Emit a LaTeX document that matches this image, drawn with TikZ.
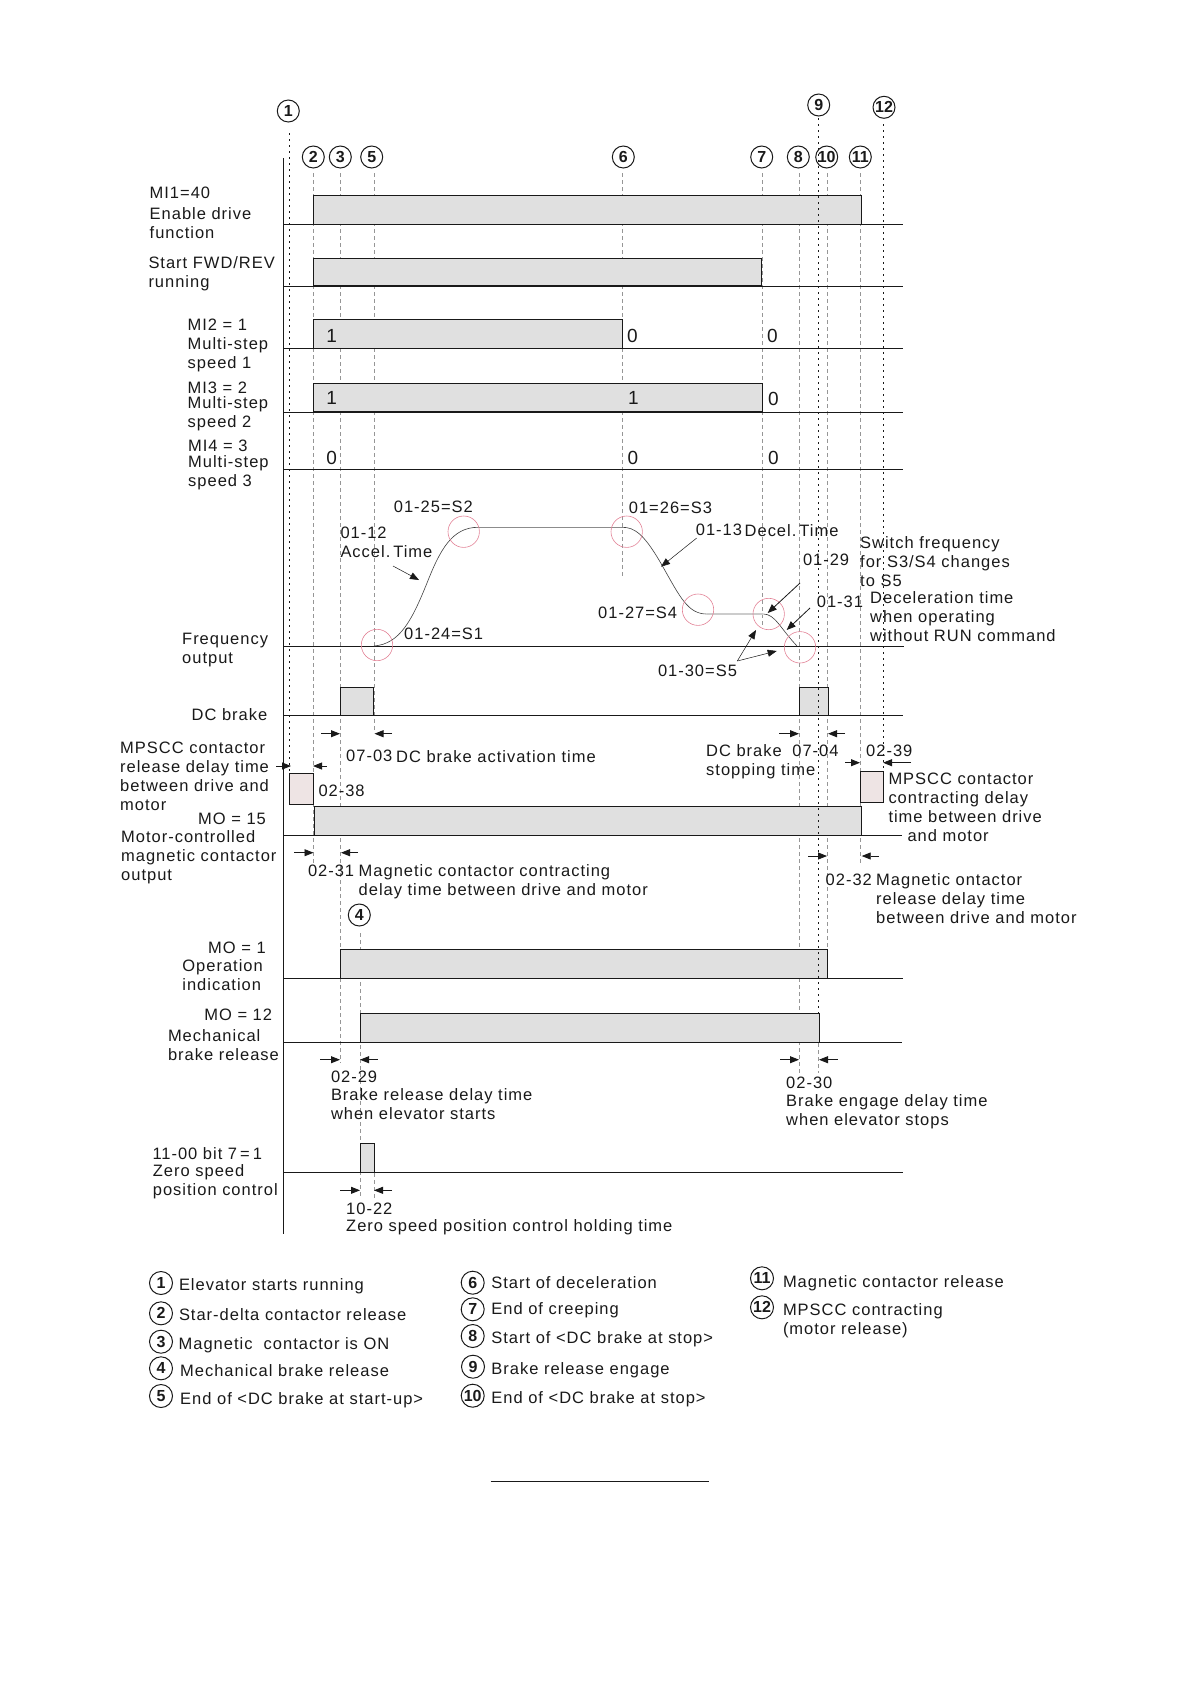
\documentclass[tikz,border=0pt]{standalone}
\usepackage{fontspec}
\setmainfont[LetterSpace=6]{Liberation Sans}
\newfontfamily\numfont{Liberation Sans}
\usepackage{xcolor}
\usetikzlibrary{arrows.meta, calc}
\definecolor{barfill}{RGB}{224,224,224}
\definecolor{pinkfill}{RGB}{238,228,228}
\definecolor{inkblack}{RGB}{25,25,25}
\definecolor{guidegray}{RGB}{150,150,150}
\definecolor{ringred}{RGB}{226,130,150}
\tikzset{
  lbl/.style={anchor=north west, inner sep=0pt, align=left, text=inkblack,
    font=\fontsize{16.5}{19}\selectfont},
  val/.style={anchor=north west, inner sep=0pt, text=inkblack,
    font=\numfont\fontsize{19}{19}\selectfont},
  num/.style={circle, draw=inkblack, line width=1pt, inner sep=0pt, minimum size=22pt,
    text=inkblack, font=\numfont\bfseries\fontsize{16}{16}\selectfont},
  key/.style={num, minimum size=23pt},
  ring/.style={circle, draw=ringred, line width=0.6pt, inner sep=0pt, minimum size=31.4pt},
  bar/.style={draw=inkblack, fill=barfill, line width=0.9pt},
  delay/.style={draw=inkblack, fill=pinkfill, line width=0.9pt},
  base/.style={draw=inkblack, line width=0.9pt},
  heavy/.style={draw=inkblack, line width=1.7pt},
  guide/.style={draw=guidegray, line width=0.6pt, dash pattern=on 4pt off 3pt},
  dots/.style={draw=inkblack, line width=1pt, dash pattern=on 2pt off 4pt},
  curve/.style={draw=black!75, line width=0.6pt},
  flat/.style={draw=black!45, line width=0.7pt},
  pale/.style={draw=black!20, line width=1.2pt},
  arrow/.style={->, >={Stealth[length=9pt, width=7pt, inset=0pt]}, draw=inkblack, line width=0.8pt},
  thin arrow/.style={arrow, line width=0.5pt}
}
\begin{document}
\begin{tikzpicture}[x=1pt, y=-1pt]
  \useasboundingbox (0,0) rectangle (1191,1684);
  % numbered marks
  \node[num] (n1) at (288.3,111) {1};
  \node[num] (n2) at (313.3,157) {2};
  \node[num] (n3) at (340.3,157) {3};
  \node[num] (n4) at (359.3,915) {4};
  \node[num] (n5) at (371.7,157) {5};
  \node[num] (n6) at (623.3,157) {6};
  \node[num] (n7) at (761.7,157) {7};
  \node[num] (n8) at (798.3,157) {8};
  \node[num] (n9) at (818.7,105) {9};
  \node[num] (n10) at (826.7,157) {10};
  \node[num] (n11) at (860.3,157) {11};
  \node[num] (n12) at (884,107.3) {12};

  % dashed time marks, behind the bars
  \coordinate (g2a) at (313.3,173); \coordinate (g2b) at (313.3,863);
  \coordinate (g3a) at (340.3,173); \coordinate (g3b) at (340.3,1063);
  \coordinate (g4a) at (360.3,933); \coordinate (g4b) at (360.3,1197);
  \coordinate (g5a) at (374.3,173); \coordinate (g5b) at (374.3,733);
  \coordinate (g6a) at (622.3,173); \coordinate (g6b) at (622.3,578);
  \coordinate (g7a) at (762.3,173); \coordinate (g7b) at (762.3,627);
  \coordinate (g8a) at (799.3,173); \coordinate (g8b) at (799.3,1073);
  \coordinate (g9a) at (818.7,1043); \coordinate (g9b) at (818.7,1073);
  \coordinate (g10a) at (827.7,173); \coordinate (g10b) at (827.7,950);
  \coordinate (g11a) at (860.3,173); \coordinate (g11b) at (860.3,865);
  \coordinate (g22a) at (374.3,1173); \coordinate (g22b) at (374.3,1198);
  \draw[guide] (g2a) -- (g2b);
  \draw[guide] (g3a) -- (g3b);
  \draw[guide] (g4a) -- (g4b);
  \draw[guide] (g5a) -- (g5b);
  \draw[guide] (g6a) -- (g6b);
  \draw[guide] (g7a) -- (g7b);
  \draw[guide] (g8a) -- (g8b);
  \draw[guide] (g9a) -- (g9b);
  \draw[guide] (g10a) -- (g10b);
  \draw[guide] (g11a) -- (g11b);
  \draw[guide] (g22a) -- (g22b);

  % signals
  \draw[bar] (313.3,195.3) rectangle (861.7,224.3);
  \draw[bar] (313.3,258.3) rectangle (761.7,286.3);
  \draw[bar] (313.3,319.3) rectangle (622.3,348);
  \draw[bar] (313.3,383.3) rectangle (762.3,412.3);
  \draw[bar] (340.3,687.3) rectangle (373.7,715.3);
  \draw[bar] (799.3,687.3) rectangle (828.7,715.3);
  \draw[bar] (314,806.7) rectangle (861.7,835.3);
  \draw[bar] (340.3,949.3) rectangle (827.7,978.3);
  \draw[bar] (360.3,1013.3) rectangle (819.3,1042.3);
  \draw[bar] (360.3,1143.3) rectangle (374.3,1172.3);
  \draw[delay] (289.3,773.3) rectangle (313.3,804.3);
  \draw[delay] (860.3,771) rectangle (883.7,802.7);
  \draw[heavy] (313.3,286.3) -- (761.7,286.3);
  \draw[heavy] (313.3,412.3) -- (762.3,412.3);

  % axis and base lines
  \draw[base] (283.3,158) -- (283.3,1234);
  \draw[base] (283.3,224.3) -- (902.7,224.3);
  \draw[base] (283.3,286.3) -- (902.7,286.3);
  \draw[base] (283.3,348) -- (902.7,348);
  \draw[base] (283.3,412.3) -- (902.7,412.3);
  \draw[base] (283.3,469.3) -- (902.7,469.3);
  \draw[base] (283.3,646.3) -- (903.7,646.3);
  \draw[base] (283.3,715.3) -- (902.7,715.3);
  \draw[base] (283.3,835.3) -- (901.7,835.3);
  \draw[base] (283.3,978.3) -- (902.7,978.3);
  \draw[base] (283.3,1042.3) -- (901.7,1042.3);
  \draw[base] (283.3,1172.3) -- (902.7,1172.3);

  % dotted marks, in front of the bars
  \coordinate (g1a) at (289.3,133); \coordinate (g1b) at (289.3,773);
  \coordinate (g9c) at (818.7,118); \coordinate (g9d) at (818.7,1013);
  \coordinate (g12a) at (883.7,124); \coordinate (g12b) at (883.7,770);
  \draw[dots] (g1a) -- (g1b);
  \draw[dots] (g9c) -- (g9d);
  \draw[dots] (g12a) -- (g12b);

  % frequency output
  \coordinate (f0) at (374,646);
  \coordinate (f1) at (478,527.3);
  \coordinate (f2) at (622,527.3);
  \coordinate (f3) at (706.7,614);
  \coordinate (f4) at (763.3,614);
  \coordinate (f5) at (797,646);
  \draw[curve] (f0) .. controls (400,644) and (412,620) .. (427,583) .. controls (440,550) and (452,527.3) .. (f1);
  \draw[flat] (f1) -- (f2);
  \draw[curve] (f2) .. controls (635,527) and (645,535) .. (663,567) .. controls (680,597) and (688,614) .. (f3);
  \draw[pale] (f3) -- (f4);
  \draw[curve] (f4) .. controls (775,614) and (780,628) .. (f5);
  \node[ring] (s1) at (377,645) {};
  \node[ring] (s2) at (463.7,531.7) {};
  \node[ring] (s3) at (626.7,531.7) {};
  \node[ring] (s4) at (698,609.7) {};
  \node[ring] (s5a) at (768.7,614) {};
  \node[ring] (s5b) at (800,647.3) {};

  % pointers to the curve
  \coordinate (pacca) at (393,566); \coordinate (paccb) at (419,580);
  \coordinate (pdeca) at (696.7,538); \coordinate (pdecb) at (661,566.7);
  \coordinate (pswa) at (800,583); \coordinate (pswb) at (767.7,613);
  \coordinate (pnra) at (810,608); \coordinate (pnrb) at (786.7,630);
  \coordinate (pfa) at (737.3,661); \coordinate (pfb) at (756,630); \coordinate (pfc) at (776.7,651);
  \draw[thin arrow] (pacca) -- (paccb);
  \draw[thin arrow] (pdeca) -- (pdecb);
  \draw[arrow] (pswa) -- (pswb);
  \draw[arrow] (pnra) -- (pnrb);
  \draw[thin arrow] (pfa) -- (pfb);
  \draw[thin arrow] (pfa) -- (pfc);

  % delay arrows
  \coordinate (d0703a) at (321,733.7); \coordinate (d0703b) at (340,733.7);
  \coordinate (d0703c) at (392,733.7); \coordinate (d0703d) at (374.5,733.7);
  \coordinate (d0704a) at (779,733.7); \coordinate (d0704b) at (799,733.7);
  \coordinate (d0704c) at (845,733.7); \coordinate (d0704d) at (828,733.7);
  \coordinate (d0238a) at (276,766); \coordinate (d0238b) at (291,766);
  \coordinate (d0238c) at (326.7,766); \coordinate (d0238d) at (313,766);
  \coordinate (d0239a) at (845,762.7); \coordinate (d0239b) at (860,762.7);
  \coordinate (d0239c) at (911,762.7); \coordinate (d0239d) at (883,762.7);
  \coordinate (d0231a) at (294,852.7); \coordinate (d0231b) at (313.5,852.7);
  \coordinate (d0231c) at (358,852.7); \coordinate (d0231d) at (341,852.7);
  \coordinate (d0232a) at (808,856); \coordinate (d0232b) at (827,856);
  \coordinate (d0232c) at (878.7,856); \coordinate (d0232d) at (861.7,856);
  \coordinate (d0229a) at (320,1059.7); \coordinate (d0229b) at (340,1059.7);
  \coordinate (d0229c) at (377.7,1059.7); \coordinate (d0229d) at (360,1059.7);
  \coordinate (d0230a) at (780,1059.7); \coordinate (d0230b) at (799,1059.7);
  \coordinate (d0230c) at (837.7,1059.7); \coordinate (d0230d) at (819,1059.7);
  \coordinate (d1022a) at (340,1190.3); \coordinate (d1022b) at (360,1190.3);
  \coordinate (d1022c) at (392,1190.3); \coordinate (d1022d) at (374,1190.3);
  \draw[arrow] (d0703a) -- (d0703b);
  \draw[arrow] (d0703c) -- (d0703d);
  \draw[arrow] (d0704a) -- (d0704b);
  \draw[arrow] (d0704c) -- (d0704d);
  \draw[arrow] (d0238a) -- (d0238b);
  \draw[arrow] (d0238c) -- (d0238d);
  \draw[arrow] (d0239a) -- (d0239b);
  \draw[arrow] (d0239c) -- (d0239d);
  \draw[arrow] (d0231a) -- (d0231b);
  \draw[arrow] (d0231c) -- (d0231d);
  \draw[arrow] (d0232a) -- (d0232b);
  \draw[arrow] (d0232c) -- (d0232d);
  \draw[arrow] (d0229a) -- (d0229b);
  \draw[arrow] (d0229c) -- (d0229d);
  \draw[arrow] (d0230a) -- (d0230b);
  \draw[arrow] (d0230c) -- (d0230d);
  \draw[arrow] (d1022a) -- (d1022b);
  \draw[arrow] (d1022c) -- (d1022d);

  % signal names
  \node[lbl] (lmi1) at (149.5,186.7) {MI1=40\\[2pt]Enable drive\\function};
  \node[lbl] (lstart) at (148.3,256.7) {Start FWD/REV\\running};
  \node[lbl] (lmi2) at (187.5,318.3) {MI2 = 1\\Multi-step\\speed 1};
  \node[lbl] (lmi3) at (187.5,381.7) {MI3 = 2\\[-4.3pt]Multi-step\\speed 2};
  \node[lbl] (lmi4) at (188,439.3) {MI4 = 3\\[-2.5pt]Multi-step\\speed 3};
  \node[lbl] (lfreq) at (182,632.7) {Frequency\\output};
  \node[lbl] (ldc) at (191.5,708.3) {DC brake};
  \node[lbl] (lrel) at (120,741.7) {MPSCC contactor\\release delay time\\between drive and\\motor};
  \node[lbl] (lmo15) at (198,812.3) {MO = 15};
  \node[lbl] (lmotor) at (121,830) {Motor-controlled\\magnetic contactor\\output};
  \node[lbl] (lmo1) at (208,941.7) {MO = 1};
  \node[lbl] (loper) at (182.2,959.3) {Operation\\indication};
  \node[lbl] (lmo12) at (204.2,1009) {MO = 12};
  \node[lbl] (lmech) at (167.8,1029.3) {Mechanical\\brake release};
  \node[lbl] (lbit) at (152.3,1147.3) {11-00 bit 7\hspace{3pt}=\hspace{3pt}1};
  \node[lbl] (lzero) at (152.7,1164.3) {Zero speed\\position control};

  % levels
  \node[val] (v21) at (326.2,329.3) {1};
  \node[val] (v22) at (626.8,329.3) {0};
  \node[val] (v23) at (767,329.3) {0};
  \node[val] (v31) at (326.2,391.7) {1};
  \node[val] (v32) at (627.8,391.7) {1};
  \node[val] (v33) at (768,391.7) {0};
  \node[val] (v41) at (326.2,451) {0};
  \node[val] (v42) at (627.5,451) {0};
  \node[val] (v43) at (768,451) {0};

  % parameters
  \node[lbl] (ls2) at (393.7,500.5) {01-25=S2};
  \node[lbl] (lacc) at (340.3,526.5) {01-12\\Accel.\hspace{3pt}Time};
  \node[lbl] (ls1) at (404,628) {01-24=S1};
  \node[lbl] (ls3) at (628.7,501.5) {01=26=S3};
  \node[lbl] (ldec) at (695.7,524) {01-13};
  \node[lbl] (ldect) at (744.5,524) {Decel.\hspace{3pt}Time};
  \node[lbl] (ls4) at (598,606.7) {01-27=S4};
  \node[lbl] (ls5) at (657.8,665) {01-30=S5};
  \node[lbl] (lsw) at (802.8,553.3) {01-29};
  \node[lbl] (lswt) at (860,536) {Switch frequency\\for S3/S4 changes\\to S5};
  \node[lbl] (lnr) at (816.7,595.7) {01-31};
  \node[lbl] (lnrt) at (870,591.5) {Deceleration time\\when operating\\without RUN command};
  \node[lbl] (l0703) at (346,750) {07-03};
  \node[lbl] (l0703t) at (396,750) {DC brake activation time};
  \node[lbl] (l0704t) at (706,744.3) {DC brake\\stopping time};
  \node[lbl] (l0704) at (792.2,744.3) {07-04};
  \node[lbl] (l0239) at (866,745) {02-39};
  \node[lbl] (l0239t) at (888.3,773) {MPSCC contactor\\contracting delay\\time between drive\\\hspace*{19pt}and motor};
  \node[lbl] (l0238) at (318.3,785) {02-38};
  \node[lbl] (l0231) at (307.8,864.3) {02-31};
  \node[lbl] (l0231t) at (358.5,864) {Magnetic contactor contracting\\delay time between drive and motor};
  \node[lbl] (l0232) at (825.5,873.5) {02-32};
  \node[lbl] (l0232t) at (876,873.5) {Magnetic ontactor\\release delay time\\between drive and motor};
  \node[lbl] (l0229) at (330.8,1070.7) {02-29\\[-1.4pt]Brake release delay time\\when elevator starts};
  \node[lbl] (l0230) at (786,1076.7) {02-30\\[-1.4pt]Brake engage delay time\\when elevator stops};
  \node[lbl] (l1022) at (346,1202.7) {10-22\\[-1.7pt]Zero speed position control holding time};

  % legend
  \node[key] (k1) at (161,1283) {1};
  \node[key] (k2) at (161,1313.3) {2};
  \node[key] (k3) at (161,1341.7) {3};
  \node[key] (k4) at (161,1368.3) {4};
  \node[key] (k5) at (161,1396) {5};
  \node[key] (k6) at (472.7,1282.7) {6};
  \node[key] (k7) at (472.7,1309.3) {7};
  \node[key] (k8) at (472.7,1336) {8};
  \node[key] (k9) at (473,1366.7) {9};
  \node[key] (k10) at (472.7,1395.7) {10};
  \node[key] (k11) at (762,1278.3) {11};
  \node[key] (k12) at (762,1307.3) {12};
  \node[lbl] (t1) at (178.8,1278.3) {Elevator starts running};
  \node[lbl] (t2) at (178.8,1308.5) {Star-delta contactor release};
  \node[lbl] (t3) at (178.5,1337) {Magnetic~ contactor is ON};
  \node[lbl] (t4) at (180,1364) {Mechanical brake release};
  \node[lbl] (t5) at (180,1392) {End of <DC brake at start-up>};
  \node[lbl] (t6) at (491.2,1276.7) {Start of deceleration};
  \node[lbl] (t7) at (491.2,1302.7) {End of creeping};
  \node[lbl] (t8) at (491.2,1331.3) {Start of <DC brake at stop>};
  \node[lbl] (t9) at (491.2,1362.3) {Brake release engage};
  \node[lbl] (t10) at (491.2,1391.7) {End of <DC brake at stop>};
  \node[lbl] (t11) at (782.8,1275) {Magnetic contactor release};
  \node[lbl] (t12) at (782.8,1303) {MPSCC contracting\\(motor release)};

  \coordinate (rulea) at (490.5,1481.5); \coordinate (ruleb) at (708.6,1481.5);
  \draw[base] (rulea) -- (ruleb);
\end{tikzpicture}
\end{document}
